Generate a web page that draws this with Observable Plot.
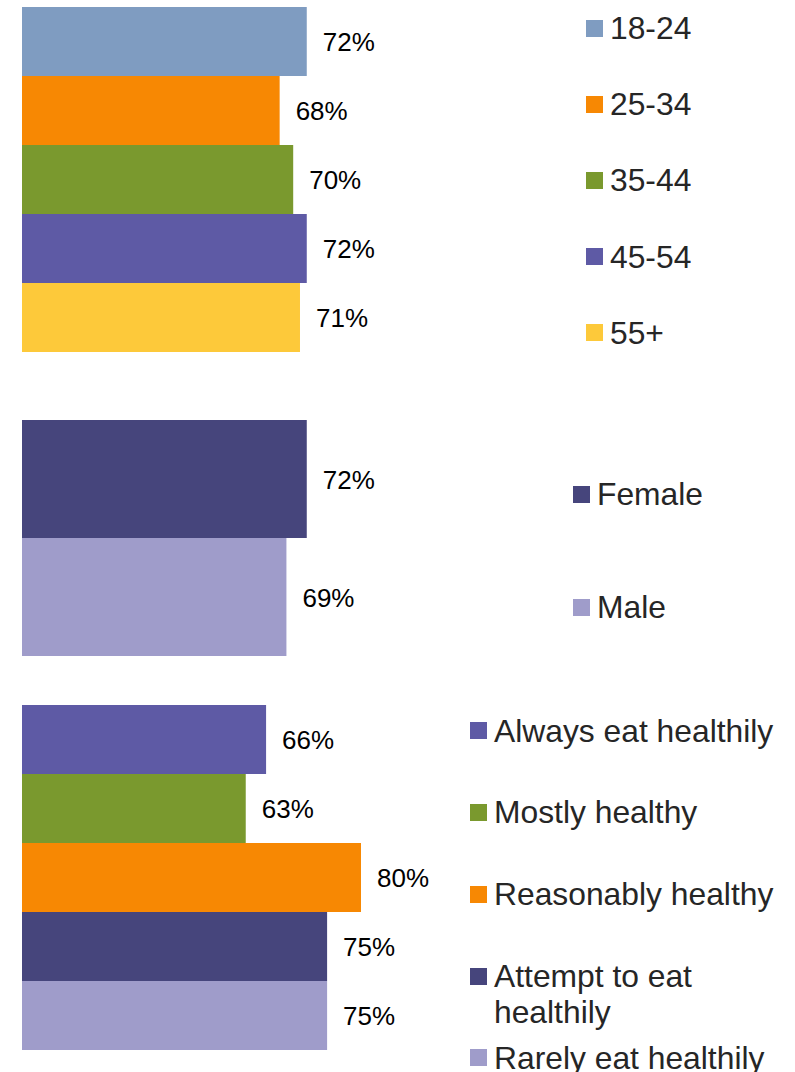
<!DOCTYPE html>
<html>
<head>
<meta charset="utf-8">
<script src="https://cdn.jsdelivr.net/npm/d3@7"></script>
<script src="https://cdn.jsdelivr.net/npm/@observablehq/plot@0.6"></script>
<style>
  html, body { margin: 0; padding: 0; background: #fff; }
  #root { position: relative; width: 795px; height: 1072px; overflow: hidden; background: #fff;
          font-family: "Liberation Sans", Arial, sans-serif; }
  .chart { position: absolute; left: 0; }
  .legend { position: absolute; }
  .item { position: relative; padding-left: 24px; font-size: 31.8px; line-height: 36px; color: #262626; box-sizing: border-box; }
  .sw { position: absolute; left: 0; top: 9.5px; width: 17px; height: 17px; }
</style>
</head>
<body>
<div id="root"></div>
<script>
// ---- data ----
const ageGroups = ["18-24", "25-34", "35-44", "45-54", "55+"];
const ageValues = [72, 68, 70, 72, 71];

const genders = ["Female", "Male"];
const genderValues = [72, 69];

const eatingHabits = ["Always eat healthily", "Mostly healthy", "Reasonably healthy", "Attempt to eat healthily", "Rarely eat healthily"];
const eatingValues = [66, 63, 80, 75, 75];

// ---- palettes ----
const ageColors = ["#7f9cc1", "#f78803", "#7a992e", "#5e5aa5", "#fdc93a"];
const genderColors = ["#46457c", "#9f9cca"];
const eatingColors = ["#5e5aa5", "#7a992e", "#f78803", "#46457c", "#9f9cca"];

const XMIN = 30, XMAX = 80;

const root = document.getElementById("root");

function panel(cats, vals, colors, top, height) {
  const data = cats.map((c, i) => ({cat: c, value: vals[i]}));
  const chart = Plot.plot({
    width: 450, height,
    marginLeft: 22, marginRight: 89, marginTop: 0, marginBottom: 0,
    x: {domain: [XMIN, XMAX], axis: null},
    y: {domain: cats, axis: null, padding: 0},
    color: {domain: cats, range: colors},
    style: {fontFamily: "'Liberation Sans', Arial, sans-serif", background: "transparent", overflow: "visible"},
    marks: [
      Plot.barX(data, {x1: XMIN, x2: "value", y: "cat", fill: "cat"}),
      Plot.text(data, {x: "value", y: "cat", text: d => `${d.value}%`, textAnchor: "start", dx: 15.5, dy: 1, fontSize: 26, fill: "#000"})
    ]
  });
  const wrap = document.createElement("div");
  wrap.className = "chart";
  wrap.style.top = top + "px";
  wrap.appendChild(chart);
  root.appendChild(wrap);
}

function legend(cats, colors, left, top, step, width) {
  const lg = document.createElement("div");
  lg.className = "legend";
  lg.style.left = left + "px";
  lg.style.top = top + "px";
  lg.style.width = width + "px";
  cats.forEach((c, i) => {
    const it = document.createElement("div");
    it.className = "item";
    it.style.height = step + "px";
    const sw = document.createElement("span");
    sw.className = "sw";
    sw.style.background = colors[i];
    it.appendChild(sw);
    it.appendChild(document.createTextNode(c));
    lg.appendChild(it);
  });
  root.appendChild(lg);
}

panel(ageGroups, ageValues, ageColors, 7, 345);
panel(genders, genderValues, genderColors, 419, 237);
panel(eatingHabits, eatingValues, eatingColors, 705, 345);

legend(ageGroups, ageColors, 586, 10, 76.2, 200);
legend(genders, genderColors, 573, 476, 113.3, 220);
legend(eatingHabits, eatingColors, 470, 712.7, 81.8, 325);
</script>
</body>
</html>
